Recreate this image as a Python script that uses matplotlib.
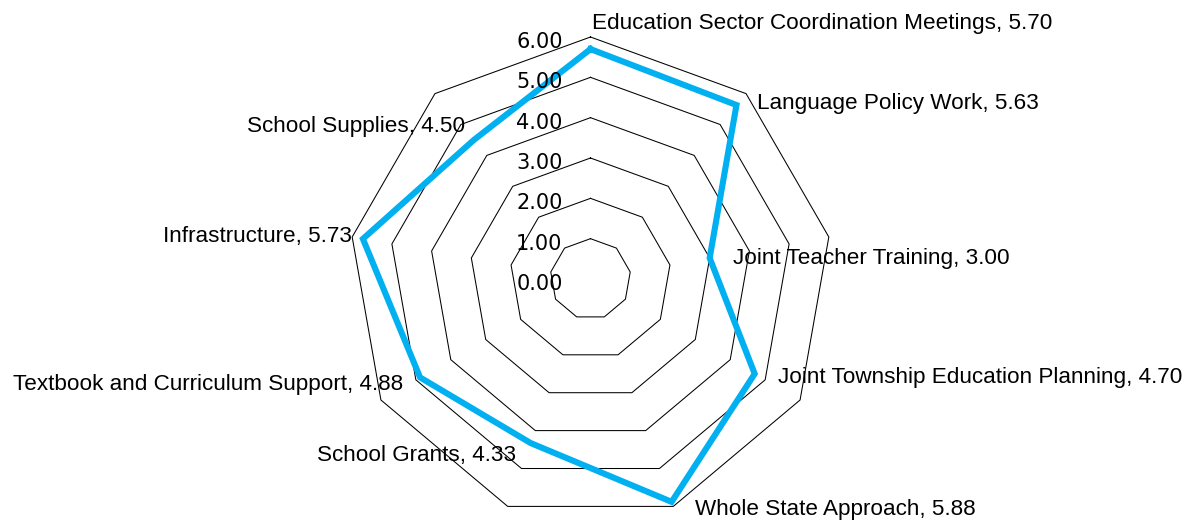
import numpy as np
import matplotlib
matplotlib.use("Agg")
import matplotlib.pyplot as plt

# categories, clockwise from the top
categories = [
    "Education Sector Coordination Meetings",
    "Language Policy Work",
    "Joint Teacher Training",
    "Joint Township Education Planning",
    "Whole State Approach",
    "School Grants",
    "Textbook and Curriculum Support",
    "Infrastructure",
    "School Supplies",
]
scores = [5.70, 5.63, 3.00, 4.70, 5.88, 4.33, 4.88, 5.73, 4.50]
ring_levels = [1, 2, 3, 4, 5, 6]
tick_values = [0, 1, 2, 3, 4, 5, 6]

# label nudges in pixels (dx, dy) and alignment for each category
label_offsets = [(1, 26), (21, 2), (23, -1), (23, -4), (23, -8),
                 (-15, -12), (-17, -7), (-11, 2), (-9, 13)]
label_align = ["left", "left", "left", "left", "left",
               "right", "right", "right", "right"]

plt.rcParams["font.family"] = "Liberation Sans"

n = len(categories)
angles = np.linspace(0, 2 * np.pi, n, endpoint=False)
closed = np.append(angles, angles[0])

fig = plt.figure(figsize=(11.88, 5.2), dpi=100)
ax = fig.add_axes([348.5 / 1188, -1 / 520, 484 / 1188, 484 / 520], projection="polar")
ax.set_theta_zero_location("N")
ax.set_theta_direction(-1)
ax.set_ylim(0, 6)
ax.axis("off")

# polygon grid rings
for lvl in ring_levels:
    ax.plot(closed, [lvl] * (n + 1), color="black", lw=0.75, clip_on=False)

# value labels along the vertical axis
for v in tick_values:
    ax.annotate("%.2f" % v, xy=(0, v), xytext=(-28, -5), textcoords="offset pixels",
                ha="right", va="center", fontsize=15, family="DejaVu Sans",
                annotation_clip=False)

# the series
vals = scores + scores[:1]
ax.plot(closed, vals, color="#00B0F0", lw=4.4, solid_joinstyle="miter", clip_on=False)

# data labels
for ang, cat, s, off, ha in zip(angles, categories, scores, label_offsets, label_align):
    ax.annotate("%s, %.2f" % (cat, s), xy=(ang, s), xytext=off, textcoords="offset pixels",
                ha=ha, va="center", fontsize=16.2, annotation_clip=False)

plt.savefig("out.png", dpi=100)
